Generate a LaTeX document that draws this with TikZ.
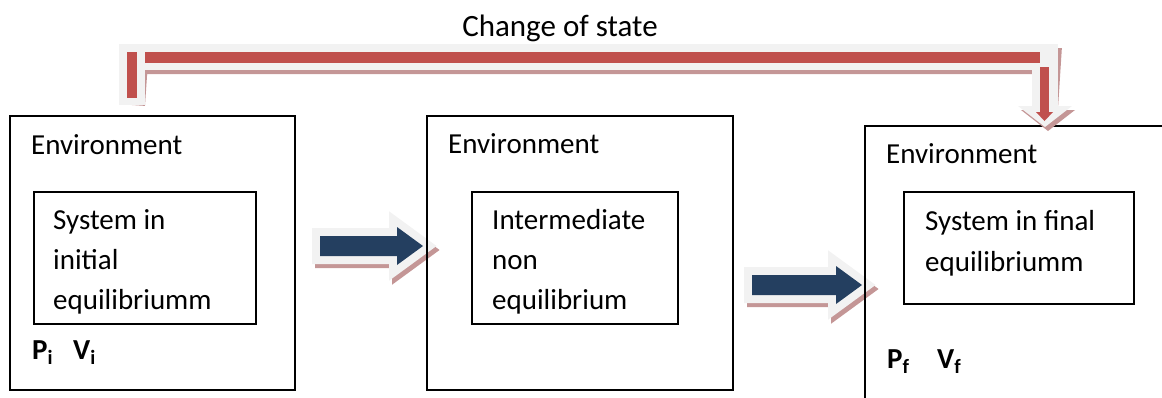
\documentclass[tikz,border=0pt]{standalone}
\usepackage{fontspec}
\setmainfont{Carlito}
\definecolor{stateRed}{RGB}{192,80,77}
\definecolor{stepBlue}{RGB}{36,63,96}
\definecolor{glowGray}{RGB}{242,242,242}
\definecolor{shadowRed}{RGB}{196,150,150}
\tikzset{
  box/.style={draw,line width=1.5pt},
  txt/.style={anchor=base west,inner sep=0pt},
  glowline/.style={draw=glowGray,line join=miter},
  shadowline/.style={draw=shadowRed,line join=miter},
  steparrow/.pic={
    \path[shadowline,fill=shadowRed,line width=16,shift={(3,4)}] (0,-10) -- ({#1-26},-10) -- ({#1-26},-19) -- (#1,0) -- ({#1-26},19) -- ({#1-26},10) -- (0,10) -- cycle;
    \path[glowline,fill=glowGray,line width=16] (0,-10) -- ({#1-26},-10) -- ({#1-26},-19) -- (#1,0) -- ({#1-26},19) -- ({#1-26},10) -- (0,10) -- cycle;
    \fill[stepBlue] (0,-10) -- ({#1-26},-10) -- ({#1-26},-19) -- (#1,0) -- ({#1-26},19) -- ({#1-26},10) -- (0,10) -- cycle;
  }
}
\begin{document}
\begin{tikzpicture}[x=1pt,y=-1pt,every node/.style={font=\fontsize{29}{35}\selectfont}]
\useasboundingbox (0,0) rectangle (1162,397);
\clip (0,0) rectangle (1162,397);
% step arrows between the stages
\pic (go1) at (320,246) {steparrow=103};
\pic (go2) at (752,285) {steparrow=110};
% outer boxes
\node[box,minimum width=285,minimum height=274] (env1) at (152.5,253) {};
\node[box,minimum width=306,minimum height=274] (env2) at (580,253) {};
\node[box,minimum width=310,minimum height=284] (env3) at (1020,268) {};
% inner boxes
\draw[box] (34,192) rectangle (256,324);
\draw[box] (472,192) rectangle (678,324);
\draw[box] (904,192) rectangle (1134,304);
% labels
\node[anchor=base,font=\fontsize{31}{37}\selectfont] (title) at (560,36) {Change of state};
\node[txt] (lab1) at (31,154) {Environment};
\node[txt] (lab2) at (448,153) {Environment};
\node[txt] (lab3) at (886,163) {Environment};
\foreach \t [count=\k] in {System in,initial,equilibriumm}
  \node[txt] (sys1-\k) at (53,189+40*\k) {\t};
\foreach \t [count=\k] in {Intermediate,non,equilibrium}
  \node[txt] (sys2-\k) at (492,189+40*\k) {\t};
\foreach \t [count=\k] in {System in final,equilibriumm}
  \node[txt] (sys3-\k) at (925,189+41*\k) {\t};
\node[txt] (pi) at (32,359) {\textbf{P\textsubscript{i}}};
\node[txt] (vi) at (73,359) {\textbf{V\textsubscript{i}}};
\node[txt] (pf) at (887,368) {\textbf{P\textsubscript{f}}};
\node[txt] (vf) at (937,368) {\textbf{V\textsubscript{f}}};
% change of state arrow
\coordinate (cs) at (132,105);
\coordinate (ce) at (1045,108);
\draw[shadowline,line width=26,shift={(3,4)}] (cs) -- (132,57) -- (1045,57) -- (ce);
\fill[shadowRed,shift={(3,4)}] (1018,106) -- (1072,106) -- (1045,127) -- cycle;
\draw[glowline,line width=26] (cs) -- (132,57) -- (1045,57) -- (ce);
\fill[glowGray] (1018,106) -- (1072,106) -- (1045,127) -- cycle;
\fill[stateRed] (127,52) rectangle (137,98);
\fill[stateRed] (145,52) rectangle (1040,63);
\fill[stateRed] (1040,67) rectangle (1049,112);
\fill[stateRed] (1036,112) -- (1053,112) -- (1044.5,121) -- cycle;
\end{tikzpicture}
\end{document}
